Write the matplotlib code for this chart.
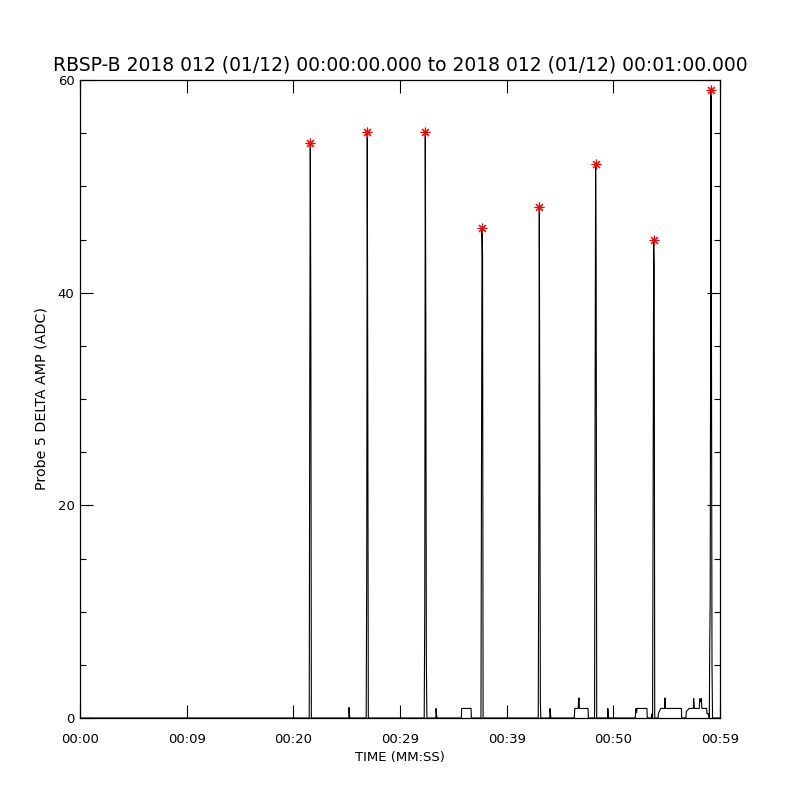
import numpy as np
import matplotlib
matplotlib.use('Agg')
import matplotlib.pyplot as plt

# peaks flagged with red asterisks (seconds, ADC)
peak_t = [21.59, 26.93, 32.37, 37.69, 43.06, 48.34, 53.78, 59.16]
peak_v = [54.1, 55.1, 55.1, 46.1, 48.1, 52.1, 45.0, 59.1]

# full delta-amp trace
trace_t = [0.0,
           21.49, 21.54, 21.59, 21.64, 21.69,
           25.20, 25.22, 25.26, 25.30,
           26.83, 26.88, 26.93, 26.98, 27.03,
           32.27, 32.32, 32.37, 32.42, 32.47, 32.52,
           33.36, 33.38, 33.43, 33.47,
           35.75, 35.78, 36.66, 36.69,
           37.59, 37.64, 37.69, 37.74, 37.79,
           42.96, 43.01, 43.06, 43.11, 43.16, 43.20,
           44.04, 44.06, 44.11, 44.15,
           46.34, 46.36, 46.39, 46.70, 46.73, 46.78, 46.82, 47.63, 47.66,
           48.24, 48.29, 48.34, 48.39, 48.44,
           49.46, 49.48, 49.53, 49.56,
           52.05, 52.08, 52.13, 52.18, 52.22, 53.15, 53.18,
           53.58, 53.60, 53.64,
           53.68, 53.73, 53.78, 53.83, 53.88,
           54.20, 54.22, 54.44, 54.82, 54.84, 54.87, 56.38, 56.41,
           56.81, 56.84, 57.10, 57.50, 57.53, 57.60, 58.06, 58.10, 58.20, 58.25, 58.30,
           58.75, 58.78, 58.94, 58.97,
           59.00, 59.03, 59.08, 59.16, 59.20, 59.25, 59.30,
           60.0]
trace_v = [0.0,
           0.0, 31.0, 54.1, 37.5, 0.0,
           0.0, 1.0, 0.3, 0.0,
           0.0, 13.5, 55.1, 30.5, 0.0,
           0.0, 10.0, 55.1, 37.6, 5.4, 0.0,
           0.0, 0.9, 0.3, 0.0,
           0.0, 0.9, 0.9, 0.0,
           0.0, 23.5, 46.1, 43.4, 0.0,
           0.0, 16.4, 48.1, 25.4, 1.5, 0.0,
           0.0, 0.9, 0.4, 0.0,
           0.0, 0.45, 0.9, 0.9, 1.4, 1.9, 0.9, 0.9, 0.0,
           0.0, 28.9, 52.1, 42.9, 0.0,
           0.0, 0.9, 0.4, 0.0,
           0.0, 0.4, 0.9, 0.5, 0.9, 0.9, 0.0,
           0.0, 0.4, 0.0,
           0.0, 20.8, 45.0, 42.4, 0.0,
           0.0, 0.4, 0.9, 0.9, 1.9, 0.9, 0.9, 0.0,
           0.0, 0.6, 0.9, 0.9, 1.85, 0.9, 0.9, 1.85, 1.5, 1.85, 0.9,
           0.9, 0.4, 0.4, 0.0,
           0.0, 6.0, 11.0, 59.1, 35.6, 5.0, 0.0,
           0.0]

xticks = [0, 10, 20, 30, 40, 50, 60]
xticklabels = ['00:00', '00:09', '00:20', '00:29', '00:39', '00:50', '00:59']
yticks = [0, 20, 40, 60]

title = 'RBSP-B 2018 012 (01/12) 00:00:00.000 to 2018 012 (01/12) 00:01:00.000'

fig = plt.figure(figsize=(8, 8), dpi=100)
ax = fig.add_axes([0.1, 0.1025, 0.8, 0.7975])

ax.plot(trace_t, trace_v, color='black', lw=0.8, solid_joinstyle='miter')
ax.plot(peak_t, peak_v, ls='none', marker=(8, 2, 0), ms=7, mew=0.8, color='red')

ax.set_xlim(0, 60)
ax.set_ylim(0, 60)
ax.set_xticks(xticks)
ax.set_xticklabels(xticklabels)
ax.set_yticks(yticks)
ax.set_yticks(np.arange(0, 61, 5), minor=True)

ax.tick_params(axis='x', which='major', direction='in', length=9.2, width=0.8,
               top=True, bottom=True, labelsize=9.5, pad=11)
ax.tick_params(axis='x', which='minor', bottom=False, top=False)
ax.tick_params(axis='y', which='major', direction='in', length=9.2, width=0.8,
               left=True, right=True, labelsize=9.5, pad=4)
ax.tick_params(axis='y', which='minor', direction='in', length=4.6, width=0.8,
               left=True, right=True)
for s in ax.spines.values():
    s.set_linewidth(0.9)

fig.text(0.5, 1 - 65 / 800, title, ha='center', va='center', fontsize=13.5)
fig.text(0.5, 1 - 758 / 800, 'TIME (MM:SS)', ha='center', va='center', fontsize=9.5)
fig.text(42 / 800, 1 - 399 / 800, 'Probe 5 DELTA AMP (ADC)', ha='center', va='center',
         rotation=90, fontsize=10.3)

fig.savefig('out.png', dpi=100, facecolor='white')
